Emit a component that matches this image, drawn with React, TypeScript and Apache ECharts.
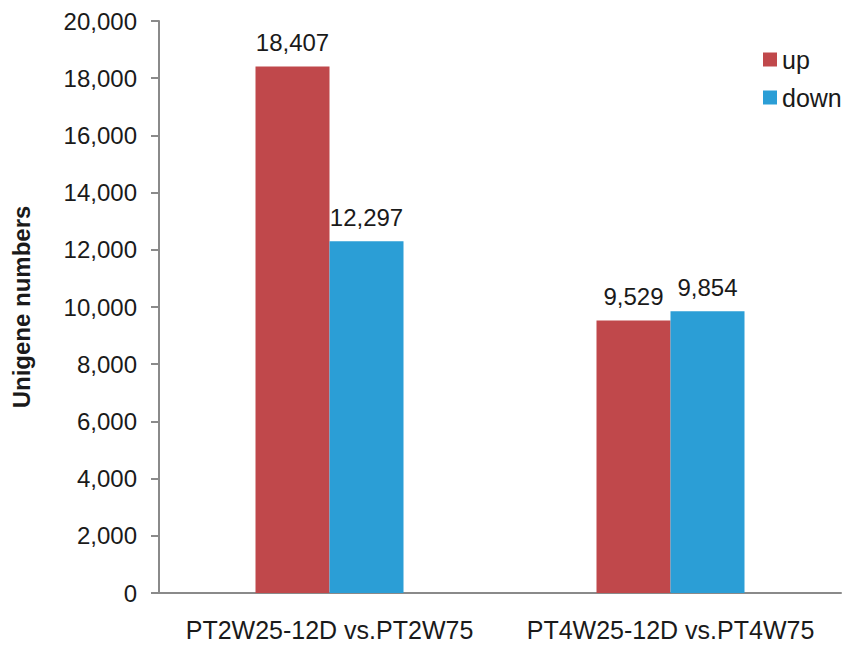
import React, { useEffect, useRef } from "react";
import * as echarts from "echarts";

const categories = ["PT2W25-12D vs.PT2W75", "PT4W25-12D vs.PT4W75"];
const upValues = [18407, 9529];
const downValues = [12297, 9854];
const seriesNames = ["up", "down"];
const yAxisName = "Unigene numbers";

const FONT = "'Liberation Sans', Arial, sans-serif";

export default function App() {
  const ref = useRef<HTMLDivElement>(null);
  useEffect(() => {
    if (!ref.current) return;
    const chart = echarts.init(ref.current, undefined, { renderer: "svg" });
    const fmt = (v: number) => v.toLocaleString("en-US");
    const labelCfg = {
      show: true,
      position: "top" as const,
      distance: 12,
      fontFamily: FONT,
      fontSize: 24,
      color: "#1a1a1a",
      formatter: (p: any) => fmt(p.value),
    };
    chart.setOption({
      animation: false,
      backgroundColor: "#ffffff",
      textStyle: { fontFamily: FONT },
      grid: { left: 159, right: 18, top: 21, bottom: 54 },
      legend: {
        orient: "vertical",
        left: 763,
        top: 47,
        padding: 0,
        itemWidth: 14,
        itemHeight: 14,
        itemGap: 13,
        icon: "rect",
        data: seriesNames,
        textStyle: { fontFamily: FONT, fontSize: 25, color: "#1a1a1a", lineHeight: 24 },
      },
      xAxis: {
        type: "category",
        data: categories,
        axisLine: { show: true, lineStyle: { color: "#8a8a8a", width: 2 } },
        axisTick: { show: false },
        axisLabel: { interval: 0, fontFamily: FONT, fontSize: 25, color: "#1a1a1a", margin: 24 },
      },
      yAxis: {
        type: "value",
        min: 0,
        max: 20000,
        interval: 2000,
        name: yAxisName,
        nameLocation: "middle",
        nameRotate: 90,
        nameGap: 126,
        nameTextStyle: { fontFamily: FONT, fontSize: 24, fontWeight: "bold", color: "#1a1a1a" },
        axisLine: { show: true, lineStyle: { color: "#8a8a8a", width: 2 } },
        axisTick: { show: true, length: 8, lineStyle: { color: "#8a8a8a", width: 2 } },
        splitLine: { show: false },
        axisLabel: { fontFamily: FONT, fontSize: 24, color: "#1a1a1a", margin: 22, formatter: fmt },
      },
      series: [
        {
          name: seriesNames[0],
          type: "bar",
          data: upValues,
          barWidth: 74,
          barGap: "0%",
          itemStyle: { color: "#C0484B" },
          label: labelCfg,
        },
        {
          name: seriesNames[1],
          type: "bar",
          data: downValues,
          barWidth: 74,
          barGap: "0%",
          itemStyle: { color: "#2B9ED6" },
          label: labelCfg,
        },
      ],
    });
    return () => chart.dispose();
  }, []);
  return (
    <div
      ref={ref}
      style={{ position: "fixed", left: 0, top: 0, width: 859, height: 647 }}
    />
  );
}
